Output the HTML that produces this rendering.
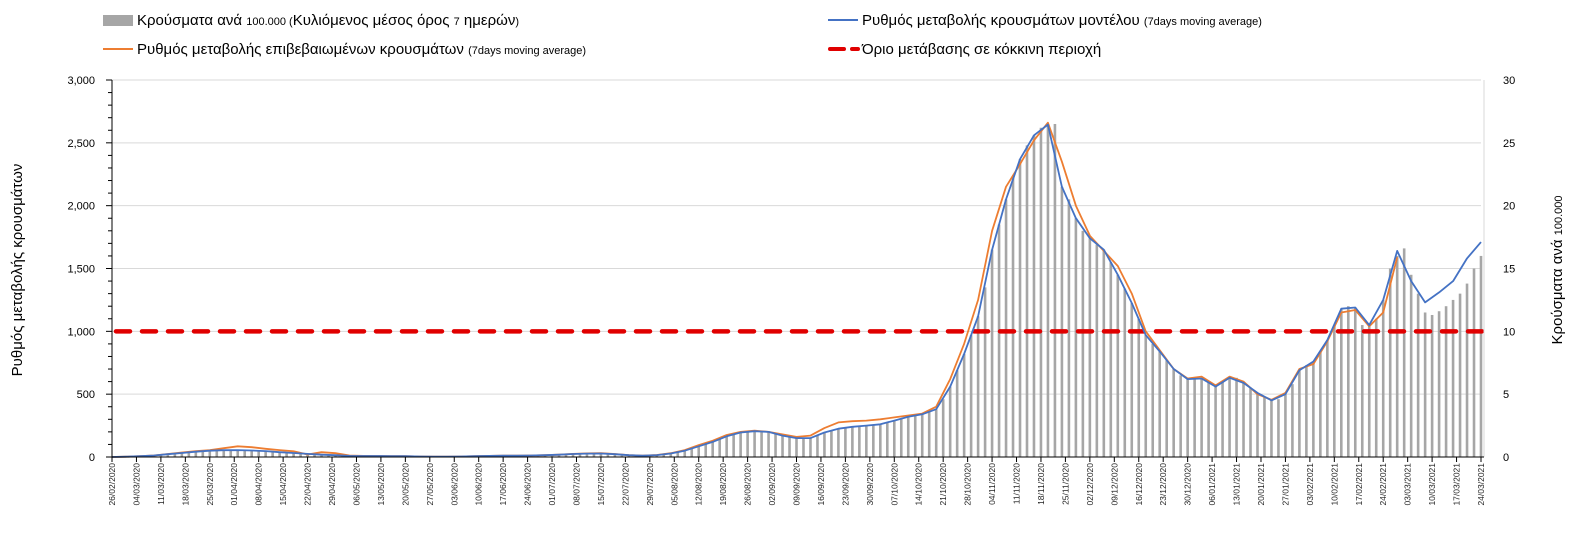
<!DOCTYPE html>
<html><head><meta charset="utf-8">
<style>
body{margin:0;background:#fff;font-family:"Liberation Sans",sans-serif;}
svg{display:block}
</style></head>
<body>
<svg id="chart" width="1580" height="551" xmlns="http://www.w3.org/2000/svg">
<g font-family="Liberation Sans, DejaVu Sans, sans-serif">
 <g>
  <rect x="103" y="15" width="30" height="11" fill="#a6a6a6"/>
  <text x="137" y="25" font-size="15" fill="#000">Κρούσματα ανά <tspan font-size="11">100.000 (</tspan>Κυλιόμενος μέσος όρος <tspan font-size="11">7</tspan> ημερών<tspan font-size="11">)</tspan></text>
 </g>
 <g>
  <line x1="103" y1="49" x2="133" y2="49" stroke="#ed7d31" stroke-width="2"/>
  <text x="137" y="54" font-size="15" fill="#000">Ρυθμός μεταβολής επιβεβαιωμένων κρουσμάτων <tspan font-size="11">(7days moving average)</tspan></text>
 </g>
 <g>
  <line x1="828" y1="20" x2="858" y2="20" stroke="#4472c4" stroke-width="2"/>
  <text x="862" y="25" font-size="15" fill="#000">Ρυθμός μεταβολής κρουσμάτων μοντέλου <tspan font-size="11">(7days moving average)</tspan></text>
 </g>
 <g>
  <line x1="830" y1="49" x2="858" y2="49" stroke="#e00000" stroke-width="4" stroke-dasharray="14 8" stroke-linecap="round"/>
  <text x="862" y="54" font-size="15" fill="#000">Όριο μετάβασης σε κόκκινη περιοχή</text>
 </g>
</g>
<text transform="translate(22,270) rotate(-90)" text-anchor="middle" font-size="15" font-family="Liberation Sans, DejaVu Sans, sans-serif">Ρυθμός μεταβολής κρουσμάτων</text>
<text transform="translate(1562,270) rotate(-90)" text-anchor="middle" font-size="15" font-family="Liberation Sans, DejaVu Sans, sans-serif">Κρούσματα ανά <tspan font-size="11">100.000</tspan></text>
<g id="grid"></g><g id="bars"></g><g id="lines"></g><g id="axes"></g>
</svg>
<script>
const dateLabels=["26/02/2020","04/03/2020","11/03/2020","18/03/2020","25/03/2020","01/04/2020","08/04/2020","15/04/2020","22/04/2020","29/04/2020","06/05/2020","13/05/2020","20/05/2020","27/05/2020","03/06/2020","10/06/2020","17/06/2020","24/06/2020","01/07/2020","08/07/2020","15/07/2020","22/07/2020","29/07/2020","05/08/2020","12/08/2020","19/08/2020","26/08/2020","02/09/2020","09/09/2020","16/09/2020","23/09/2020","30/09/2020","07/10/2020","14/10/2020","21/10/2020","28/10/2020","04/11/2020","11/11/2020","18/11/2020","25/11/2020","02/12/2020","09/12/2020","16/12/2020","23/12/2020","30/12/2020","06/01/2021","13/01/2021","20/01/2021","27/01/2021","03/02/2021","10/02/2021","17/02/2021","24/02/2021","03/03/2021","10/03/2021","17/03/2021","24/03/2021"];
const leftTicks=[0,500,1000,1500,2000,2500,3000];
const rightTicks=[0,5,10,15,20,25,30];
const threshold=1000;
// model rate, one value every 4 days from day 0
const modelRate=[0,2,6,12,22,32,42,50,54,55,52,47,38,32,25,18,14,9,8,8,7,6,4,3,3,4,7,9,10,11,12,14,18,24,27,28,22,14,10,15,28,50,85,120,165,195,205,200,170,150,150,195,225,240,250,260,290,320,340,380,560,820,1120,1650,2050,2370,2560,2645,2150,1900,1740,1650,1450,1225,970,840,700,620,625,560,630,590,510,450,500,690,760,930,1180,1190,1050,1250,1640,1400,1230,1310,1400,1580,1710];
// confirmed rate, every 4 days from day 0 (ends earlier)
const confirmedRate=[0,2,6,12,24,36,46,55,70,85,78,65,55,45,20,38,30,12,9,8,7,6,4,3,3,4,7,9,10,11,12,14,18,25,29,30,24,15,10,16,30,55,95,130,175,200,210,200,180,160,170,230,275,285,290,300,315,330,345,400,620,900,1250,1800,2150,2330,2520,2660,2350,2000,1760,1640,1520,1300,1000,850,700,625,640,570,640,600,500,455,510,700,740,920,1150,1170,1040,1150,1590];
// cases per 100k, every 2 days from day 0
const casesPer100k=[0,0,0.02,0.04,0.06,0.1,0.12,0.16,0.22,0.27,0.32,0.37,0.42,0.46,0.5,0.52,0.54,0.55,0.55,0.55,
0.52,0.5,0.47,0.43,0.38,0.35,0.32,0.28,0.25,0.21,0.18,0.16,0.14,0.11,0.09,0.08,0.08,0.08,0.08,0.08,
0.07,0.06,0.06,0.05,0.04,0.03,0.03,0.03,0.03,0.03,0.04,0.05,0.07,0.08,0.09,0.1,0.1,0.1,0.11,0.11,
0.12,0.13,0.14,0.16,0.18,0.21,0.24,0.26,0.27,0.27,0.28,0.26,0.22,0.18,0.14,0.12,0.1,0.1,0.15,0.2,
0.28,0.38,0.5,0.66,0.85,1.02,1.2,1.42,1.65,1.8,1.95,2.02,2.05,2.03,2.0,1.85,1.7,1.6,1.5,1.5,
1.5,1.7,1.95,2.1,2.25,2.33,2.4,2.45,2.5,2.55,2.6,2.75,2.9,3.05,3.2,3.3,3.4,3.6,3.8,4.6,
5.6,6.9,8.2,9.7,11.2,13.5,16.5,18.5,20.5,22.3,23.7,24.8,25.6,26.2,26.45,26.5,21.5,20.5,19.0,18.0,
17.4,16.9,16.5,15.5,14.5,13.4,12.25,11.0,9.7,9.0,8.4,7.7,7.0,6.5,6.2,6.25,6.25,6.0,5.6,6.0,
6.3,6.3,5.9,5.5,5.1,4.8,4.5,4.6,5.0,5.8,6.9,7.3,7.6,8.4,9.3,10.5,11.8,12.0,11.9,10.5,
10.5,11.0,12.5,15.0,16.0,16.6,14.5,13.0,11.5,11.3,11.6,12.0,12.5,13.0,13.8,15.0,16.0];

const NS="http://www.w3.org/2000/svg";
const X0=112,X1=1481,TOTALDAYS=392,YT=80,YB=457;
const xDay=d=>X0+(X1-X0)*d/TOTALDAYS;
const yL=v=>YB-(YB-YT)*v/3000;
const yR=v=>YB-(YB-YT)*v/30;
function mk(tag,attrs,parent){const e=document.createElementNS(NS,tag);for(const k in attrs)e.setAttribute(k,attrs[k]);parent.appendChild(e);return e;}
const grid=document.getElementById('grid'),bars=document.getElementById('bars'),lines=document.getElementById('lines'),axes=document.getElementById('axes');
const FONT="Liberation Sans, DejaVu Sans, sans-serif";

leftTicks.forEach(v=>{
 if(v>0){const g=mk('line',{x1:X0,x2:X1,y1:yL(v),y2:yL(v),stroke:'#d9d9d9','stroke-width':1},grid);
 
 }
 const t=mk('text',{x:95,y:yL(v)+4,'text-anchor':'end','font-size':11,'font-family':FONT},axes);
 t.textContent=v.toLocaleString('en-US');
 
 
});
rightTicks.forEach(v=>{
 const t=mk('text',{x:1503,y:yR(v)+4,'font-size':11,'font-family':FONT},axes);
 t.textContent=String(v);
 
 
});
for(let v=0;v<=3000;v+=100){
 const tk=mk('line',{x1:X0-(v%500===0?6:4),x2:X0,y1:yL(v),y2:yL(v),stroke:'#000','stroke-width':1},axes);
 
 
}
const la=mk('line',{x1:X0,x2:X0,y1:YT,y2:YB,stroke:'#000','stroke-width':1},axes);


const ra=mk('line',{x1:X1+3,x2:X1+3,y1:YT,y2:YB,stroke:'#d9d9d9','stroke-width':1},axes);


const xa=mk('line',{x1:X0,x2:X1+3,y1:YB,y2:YB,stroke:'#000','stroke-width':1},axes);


dateLabels.forEach((lab,i)=>{
 const x=xDay(i*7);
 const tk=mk('line',{x1:x,x2:x,y1:YB,y2:YB+5,stroke:'#000','stroke-width':1},axes);
 
 
 const t=mk('text',{transform:`translate(${x+3},${YB+6}) rotate(-90)`,'text-anchor':'end','font-size':8.5,'font-family':FONT,fill:'#222'},axes);
 t.textContent=lab;
 
 
});

casesPer100k.forEach((v,i)=>{
 const x=xDay(i*2);
 const b=mk('rect',{x:x-1.3,y:yR(v),width:2.6,height:YB-yR(v),fill:'#a6a6a6'},bars);
 
 
});

const th=mk('line',{x1:X0+4,x2:X1+2,y1:yL(threshold),y2:yL(threshold),stroke:'#e00000','stroke-width':4.5,'stroke-dasharray':'14 12','stroke-linecap':'round'},lines);



function path(arr,step,color,name){
 const d=arr.map((v,i)=>(i?'L':'M')+xDay(i*step).toFixed(1)+','+yL(v).toFixed(1)).join('');
 const p=mk('path',{d:d,fill:'none',stroke:color,'stroke-width':1.8,'stroke-linejoin':'round'},lines);
 
 
}
path(confirmedRate,4,'#ed7d31','confirmed-rate-line');
path(modelRate,4,'#4472c4','model-rate-line');
</script>
</body></html>
